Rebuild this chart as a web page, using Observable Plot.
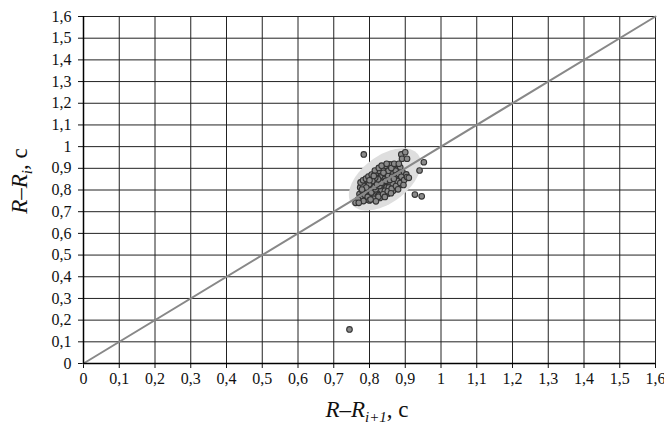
<!DOCTYPE html>
<html>
<head>
<meta charset="utf-8">
<script src="https://cdn.jsdelivr.net/npm/d3@7"></script>
<script src="https://cdn.jsdelivr.net/npm/@observablehq/plot@0.6"></script>
<style>
  html, body { margin: 0; padding: 0; background: #fff; }
  svg text { font-family: "Liberation Serif", "DejaVu Serif", serif; }
</style>
</head>
<body>
<div id="chart"></div>
<script>
// Tick values and their labels (comma decimals)
const axisTicks = [0, 0.1, 0.2, 0.3, 0.4, 0.5, 0.6, 0.7, 0.8, 0.9, 1, 1.1, 1.2, 1.3, 1.4, 1.5, 1.6];
const tickLabels = ["0", "0,1", "0,2", "0,3", "0,4", "0,5", "0,6", "0,7", "0,8", "0,9", "1", "1,1", "1,2", "1,3", "1,4", "1,5", "1,6"];

// RR(i+1) values (x)
const rrNext = [
  0.772, 0.781, 0.776, 0.789, 0.794, 0.798, 0.801, 0.806, 0.809, 0.812,
  0.815, 0.818, 0.821, 0.824, 0.826, 0.829, 0.832, 0.834, 0.837, 0.839,
  0.842, 0.845, 0.847, 0.851, 0.853, 0.856, 0.858, 0.861, 0.864, 0.866,
  0.869, 0.872, 0.875, 0.877, 0.881, 0.884, 0.887, 0.892, 0.896, 0.903,
  0.787, 0.792, 0.803, 0.811, 0.819, 0.827, 0.838, 0.846, 0.857, 0.868,
  0.879, 0.886, 0.893, 0.878, 0.866, 0.852, 0.841, 0.829, 0.816, 0.804,
  0.793, 0.783, 0.768, 0.761, 0.774, 0.782, 0.797, 0.807, 0.813, 0.823,
  0.831, 0.836, 0.844, 0.849, 0.855, 0.862, 0.873, 0.871, 0.859, 0.848,
  0.833, 0.822, 0.811, 0.799, 0.786, 0.795, 0.805, 0.817, 0.828, 0.838,
  0.843, 0.852, 0.863, 0.874, 0.882, 0.889, 0.877, 0.865, 0.854, 0.843,
  0.826, 0.814, 0.821, 0.834, 0.846, 0.857, 0.868, 0.824, 0.816, 0.808,
  0.799, 0.791, 0.779, 0.853, 0.861, 0.869, 0.839,
  0.775, 0.782, 0.790, 0.797, 0.806, 0.815, 0.826, 0.834, 0.800, 0.812,
  0.800, 0.812, 0.825, 0.838, 0.851, 0.862, 0.874, 0.886, 0.897, 0.905,
  0.895, 0.880, 0.860, 0.843, 0.818,
  0.784, 0.889, 0.900, 0.891, 0.905, 0.882, 0.952, 0.940, 0.910, 0.927,
  0.946, 0.744, 0.770, 0.803, 0.848
];
// RR(i) values (y)
const rrPrev = [
  0.781, 0.793, 0.768, 0.806, 0.788, 0.817, 0.774, 0.829, 0.801, 0.786,
  0.842, 0.815, 0.797, 0.858, 0.831, 0.809, 0.873, 0.846, 0.822, 0.794,
  0.862, 0.838, 0.881, 0.853, 0.826, 0.897, 0.871, 0.843, 0.815, 0.889,
  0.862, 0.834, 0.906, 0.878, 0.851, 0.823, 0.869, 0.884, 0.858, 0.872,
  0.829, 0.842, 0.853, 0.868, 0.879, 0.889, 0.901, 0.912, 0.918, 0.907,
  0.896, 0.905, 0.839, 0.808, 0.796, 0.784, 0.772, 0.763, 0.758, 0.761,
  0.755, 0.749, 0.756, 0.741, 0.812, 0.821, 0.834, 0.812, 0.823, 0.838,
  0.851, 0.864, 0.826, 0.869, 0.858, 0.876, 0.889, 0.849, 0.832, 0.813,
  0.798, 0.783, 0.771, 0.799, 0.778, 0.768, 0.788, 0.803, 0.819, 0.836,
  0.851, 0.866, 0.861, 0.867, 0.874, 0.861, 0.841, 0.828, 0.811, 0.796,
  0.776, 0.814, 0.826, 0.833, 0.843, 0.846, 0.852, 0.849, 0.856, 0.841,
  0.826, 0.811, 0.802, 0.889, 0.901, 0.921, 0.879,
  0.835, 0.845, 0.852, 0.862, 0.871, 0.890, 0.902, 0.912, 0.845, 0.865,
  0.752, 0.760, 0.769, 0.780, 0.794, 0.806, 0.818, 0.832, 0.846, 0.860,
  0.823, 0.803, 0.785, 0.768, 0.748,
  0.964, 0.964, 0.974, 0.944, 0.944, 0.921, 0.928, 0.890, 0.856, 0.779,
  0.771, 0.157, 0.741, 0.756, 0.921
];

// Scatter ellipse: centre x, centre y, semi-major, semi-minor, angle (deg)
const ellipseParams = [0.843, 0.849, 0.156, 0.08, 62.8];

// Identity line end points
const identityLine = [0, 1.6];

const points = rrNext.map((x, i) => ({x, y: rrPrev[i]}));

const [ecx, ecy, ea, eb, eang] = ellipseParams;
const phi = eang * Math.PI / 180;
const ellipsePoly = d3.range(0, 360, 4).map(t => {
  const th = t * Math.PI / 180;
  return {
    x: ecx + ea * Math.cos(phi) * Math.cos(th) - eb * Math.sin(phi) * Math.sin(th),
    y: ecy + ea * Math.sin(phi) * Math.cos(th) + eb * Math.cos(phi) * Math.sin(th)
  };
});
const diag = identityLine.map(v => ({x: v, y: v}));

const fmt = d => tickLabels[Math.round(d * 10)];
const serif = '"Liberation Serif", "DejaVu Serif", serif';

const chart = Plot.plot({
  width: 664,
  height: 426,
  marginLeft: 83,
  marginRight: 9,
  marginTop: 16,
  marginBottom: 63,
  style: {fontFamily: serif, fontSize: "16px", background: "#fff", color: "#111"},
  x: {domain: [0, 1.6], ticks: axisTicks, tickFormat: fmt, tickSize: 5, tickPadding: 4, label: null},
  y: {domain: [0, 1.6], ticks: axisTicks, tickFormat: fmt, tickSize: 5, tickPadding: 7, label: null},
  marks: [
    Plot.ruleX(axisTicks, {stroke: "#222", strokeWidth: 1}),
    Plot.ruleY(axisTicks, {stroke: "#222", strokeWidth: 1}),
    Plot.line(ellipsePoly, {x: "x", y: "y", fill: "#dedede", stroke: "none", curve: "linear-closed"}),
    Plot.dot(points, {x: "x", y: "y", r: 2.8, fill: "#8a8a8a", stroke: "#333", strokeWidth: 1.1}),
    Plot.line(diag, {x: "x", y: "y", stroke: "#888", strokeWidth: 2}),
    Plot.ruleX([0], {stroke: "#000", strokeWidth: 1.5}),
    Plot.ruleY([0], {stroke: "#000", strokeWidth: 1.5})
  ]
});

const svg = d3.select(chart.tagName.toLowerCase() === "svg" ? chart : chart.querySelector("svg"));
svg.style("overflow", "visible");

// X axis label: R–R_{i+1}, c
const xl = svg.append("text")
  .attr("x", 367).attr("y", 417)
  .attr("text-anchor", "middle")
  .style("font-size", "23px")
  .attr("fill", "#111");
xl.append("tspan").style("font-style", "italic").text("R–R");
xl.append("tspan").style("font-style", "italic").style("font-size", "15px").attr("dy", 5).text("i+1");
xl.append("tspan").attr("dy", -5).text(", c");

// Y axis label: R–R_i, c
const yl = svg.append("text")
  .attr("transform", "translate(27,181) rotate(-90)")
  .attr("text-anchor", "middle")
  .style("font-size", "23px")
  .attr("fill", "#111");
yl.append("tspan").style("font-style", "italic").text("R–R");
yl.append("tspan").style("font-style", "italic").style("font-size", "15px").attr("dy", 5).text("i");
yl.append("tspan").attr("dy", -5).text(", c");

document.getElementById("chart").appendChild(chart);
</script>
</body>
</html>
